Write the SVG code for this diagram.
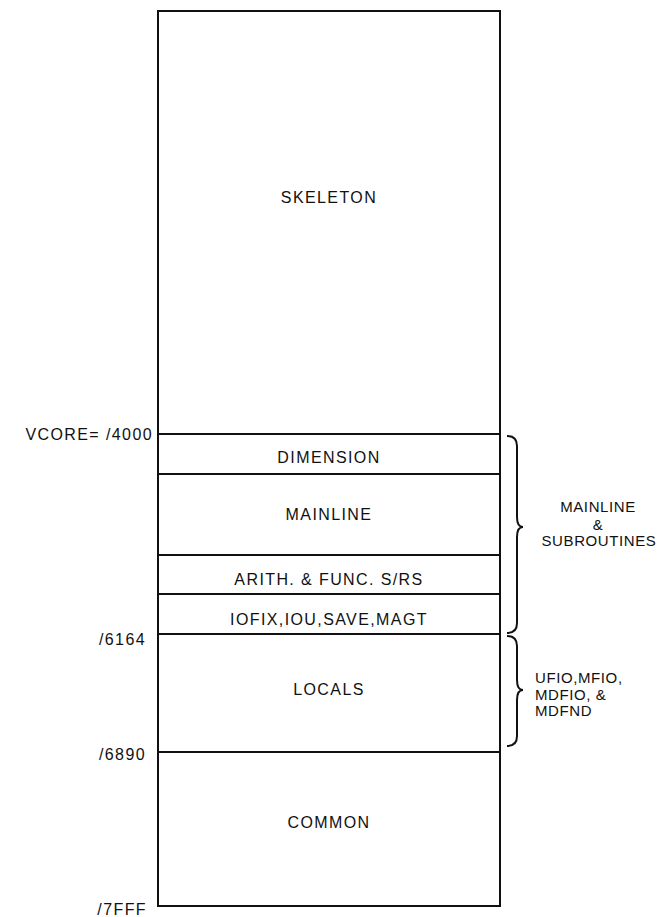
<svg xmlns="http://www.w3.org/2000/svg" width="667" height="917" viewBox="0 0 667 917">
<style>
.box{fill:none;stroke:#111;stroke-width:2}
.sep{stroke:#111;stroke-width:2}
.t{font-family:"Liberation Sans",Arial,sans-serif;font-size:16px;fill:#111;letter-spacing:1.4px}
.c{text-anchor:middle}
.e{text-anchor:end}
.s{font-size:15px;letter-spacing:0.6px}
.brace{fill:none;stroke:#111;stroke-width:2}
</style>
<rect width="667" height="917" fill="#fff"/>
<g id="memory">
<rect class="box" x="158" y="11" width="342" height="895"/>
</g>
<g id="skeleton">
<text class="t c" x="329" y="203">SKELETON</text>
</g>
<g id="dimension">
<line class="sep" x1="158" y1="434" x2="500" y2="434" stroke-width="3"/>
<text class="t c" x="329" y="463">DIMENSION</text>
</g>
<g id="mainline">
<line class="sep" x1="158" y1="474" x2="500" y2="474"/>
<text class="t c" x="329" y="520">MAINLINE</text>
</g>
<g id="arith">
<line class="sep" x1="158" y1="555" x2="500" y2="555"/>
<text class="t c" x="329" y="585">ARITH. &amp; FUNC. S/RS</text>
</g>
<g id="iofix">
<line class="sep" x1="158" y1="594" x2="500" y2="594"/>
<text class="t c" x="329" y="625">IOFIX,IOU,SAVE,MAGT</text>
</g>
<g id="locals">
<line class="sep" x1="158" y1="634" x2="500" y2="634"/>
<text class="t c" x="329" y="695">LOCALS</text>
</g>
<g id="common">
<line class="sep" x1="158" y1="752" x2="500" y2="752"/>
<text class="t c" x="329" y="828">COMMON</text>
</g>
<g id="addresses">
<text class="t e" x="153" y="440">VCORE= /4000</text>
<text class="t e" x="146" y="645">/6164</text>
<text class="t e" x="146" y="760">/6890</text>
<text class="t e" x="147" y="915">/7FFF</text>
</g>
<g id="connectors">
<path class="brace" d="M507,436 Q517,436 517,446 L517,517 Q517,527 523,527 Q517,527 517,537 L517,623 Q517,633 507,633"/>
<path class="brace" d="M507,636 Q517,636 517,646 L517,680 Q517,690 523,690 Q517,690 517,700 L517,736 Q517,746 507,746"/>
</g>
<g id="mainline-subroutines">
<text class="t s c" x="598" y="512">MAINLINE</text>
<text class="t s c" x="598" y="530" font-size="12">&amp;</text>
<text class="t s c" x="599" y="546">SUBROUTINES</text>
</g>
<g id="io-routines">
<text class="t s" x="535" y="683">UFIO,MFIO,</text>
<text class="t s" x="535" y="700">MDFIO, &amp;</text>
<text class="t s" x="535" y="716">MDFND</text>
</g>
</svg>
